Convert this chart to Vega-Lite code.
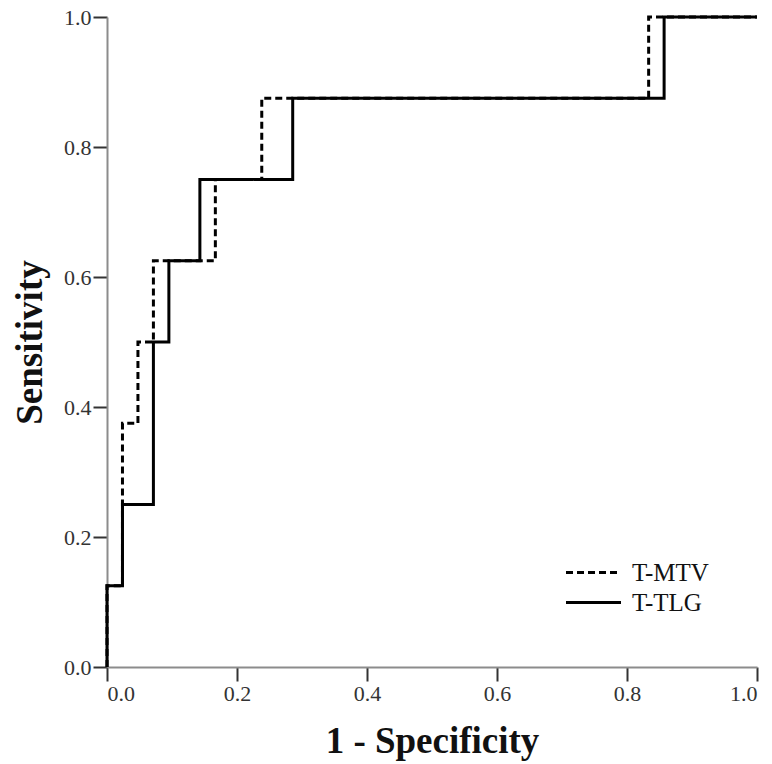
{
  "$schema": "https://vega.github.io/schema/vega-lite/v6.json",
  "width": 650,
  "height": 650,
  "autosize": {"type": "none"},
  "padding": {"left": 107, "top": 17, "right": 15, "bottom": 97},
  "background": "white",
  "config": {
    "view": {"stroke": null},
    "font": "Liberation Serif"
  },
  "data": {
    "values": [
      {"curve": "T-MTV", "i": 0, "fpr": 0, "tpr": 0},
      {"curve": "T-MTV", "i": 1, "fpr": 0, "tpr": 0.125},
      {"curve": "T-MTV", "i": 2, "fpr": 0.0238, "tpr": 0.375},
      {"curve": "T-MTV", "i": 3, "fpr": 0.0476, "tpr": 0.5},
      {"curve": "T-MTV", "i": 4, "fpr": 0.0714, "tpr": 0.625},
      {"curve": "T-MTV", "i": 5, "fpr": 0.1667, "tpr": 0.75},
      {"curve": "T-MTV", "i": 6, "fpr": 0.2381, "tpr": 0.875},
      {"curve": "T-MTV", "i": 7, "fpr": 0.8333, "tpr": 1},
      {"curve": "T-MTV", "i": 8, "fpr": 1, "tpr": 1},
      {"curve": "T-TLG", "i": 0, "fpr": 0, "tpr": 0},
      {"curve": "T-TLG", "i": 1, "fpr": 0, "tpr": 0.125},
      {"curve": "T-TLG", "i": 2, "fpr": 0.0238, "tpr": 0.25},
      {"curve": "T-TLG", "i": 3, "fpr": 0.0714, "tpr": 0.5},
      {"curve": "T-TLG", "i": 4, "fpr": 0.0952, "tpr": 0.625},
      {"curve": "T-TLG", "i": 5, "fpr": 0.1429, "tpr": 0.75},
      {"curve": "T-TLG", "i": 6, "fpr": 0.2857, "tpr": 0.875},
      {"curve": "T-TLG", "i": 7, "fpr": 0.8571, "tpr": 1},
      {"curve": "T-TLG", "i": 8, "fpr": 1, "tpr": 1}
    ]
  },
  "mark": {"type": "line", "interpolate": "step-after", "color": "black", "strokeWidth": 3, "clip": false},
  "encoding": {
    "x": {
      "field": "fpr", "type": "quantitative",
      "scale": {"domain": [0, 1], "nice": false, "zero": false},
      "axis": {
        "title": "1 - Specificity", "values": [0, 0.2, 0.4, 0.6, 0.8, 1],
        "format": ".1f", "grid": false,
        "domainColor": "#8c8c8c", "domainWidth": 2,
        "tickColor": "#333333", "tickWidth": 2, "tickSize": 14,
        "labelFont": "Liberation Serif", "labelFontSize": 22, "labelColor": "#333333", "labelPadding": 2,
        "titleFont": "Liberation Serif", "titleFontSize": 37, "titleFontWeight": "bold", "titleColor": "#111111", "titlePadding": 19
      }
    },
    "y": {
      "field": "tpr", "type": "quantitative",
      "scale": {"domain": [0, 1], "nice": false, "zero": false},
      "axis": {
        "title": "Sensitivity", "values": [0, 0.2, 0.4, 0.6, 0.8, 1],
        "format": ".1f", "grid": false,
        "domainColor": "#8c8c8c", "domainWidth": 2,
        "tickColor": "#333333", "tickWidth": 2, "tickSize": 14,
        "labelFont": "Liberation Serif", "labelFontSize": 22, "labelColor": "#333333", "labelPadding": 2,
        "titleFont": "Liberation Serif", "titleFontSize": 37, "titleFontWeight": "bold", "titleColor": "#111111", "titlePadding": 14
      }
    },
    "order": {"field": "i", "type": "quantitative"},
    "strokeDash": {
      "field": "curve", "type": "nominal",
      "scale": {"domain": ["T-MTV", "T-TLG"], "range": [[7, 4], [1, 0]]},
      "legend": {
        "title": null, "orient": "none", "legendX": 471, "legendY": 540,
        "symbolType": "M-2,0H2", "symbolSize": 756, "symbolStrokeWidth": 3, "symbolStrokeColor": "black",
        "labelFont": "Liberation Serif", "labelFontSize": 25, "labelColor": "#111111",
        "rowPadding": 1, "labelOffset": 23
      }
    }
  }
}
